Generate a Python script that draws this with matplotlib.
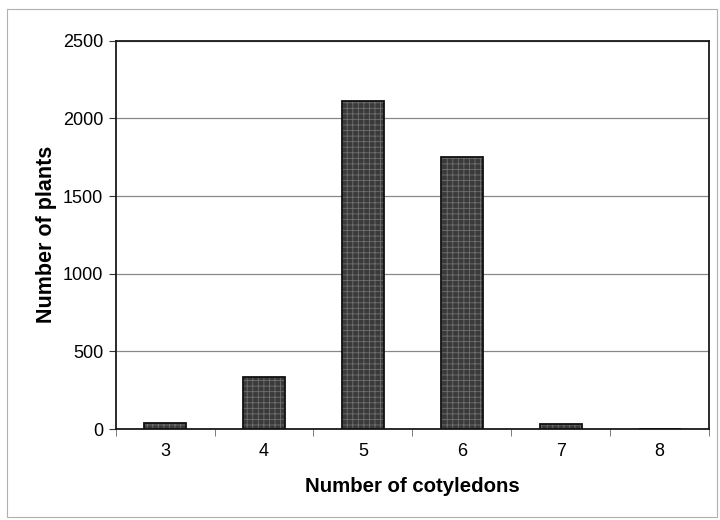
import matplotlib
matplotlib.use('Agg')
import matplotlib.pyplot as plt
from matplotlib.patches import Rectangle

# data
cotyledons = ['3', '4', '5', '6', '7', '8']
plants = [41, 333, 2112, 1753, 34, 0]

plt.rcParams['font.family'] = ['Liberation Sans', 'DejaVu Sans']
plt.rcParams['hatch.linewidth'] = 0.6

fig = plt.figure(figsize=(7.2, 5.2), dpi=100)
ax = fig.add_axes([0.1607, 0.175, 0.824, 0.7467])

x = range(len(cotyledons))
# stippled fill, then a dark outline on top
ax.bar(x, plants, width=0.425, color='#3a3a3a', edgecolor='#707070', hatch='+++', linewidth=0, zorder=3)
ax.bar(x, plants, width=0.425, fill=False, edgecolor='#111111', linewidth=1.3, zorder=4)

ax.set_xlim(-0.5, len(cotyledons) - 0.5)
ax.set_ylim(0, 2500)
ax.set_yticks([0, 500, 1000, 1500, 2000, 2500])
ax.set_xticks(list(x))
ax.set_xticklabels(cotyledons)
# excel-style tick marks between categories
ax.set_xticks([i - 0.5 for i in range(len(cotyledons) + 1)], minor=True)
ax.tick_params(axis='x', which='major', length=0, labelsize=13, pad=10)
ax.tick_params(axis='x', which='minor', length=5, color='#666666', direction='out')
ax.tick_params(axis='y', length=5, labelsize=13, direction='out', color='#333333', pad=4)

ax.yaxis.grid(True, color='#888888', linewidth=0.9)
ax.set_axisbelow(True)
for side in ['top', 'right', 'left', 'bottom']:
    ax.spines[side].set_color('#1a1a1a')
    ax.spines[side].set_linewidth(1.3)

ax.set_xlabel('Number of cotyledons', fontsize=14.7, fontweight='bold', labelpad=12)
ax.set_ylabel('Number of plants', fontsize=15.5, fontweight='bold', labelpad=4)

# thin frame round the whole figure
fig.patches.append(Rectangle((7 / 720, 3 / 520), 710 / 720, 508 / 520, transform=fig.transFigure,
                             fill=False, edgecolor='#b0b0b0', linewidth=0.8))

fig.savefig('out.png', dpi=100)
